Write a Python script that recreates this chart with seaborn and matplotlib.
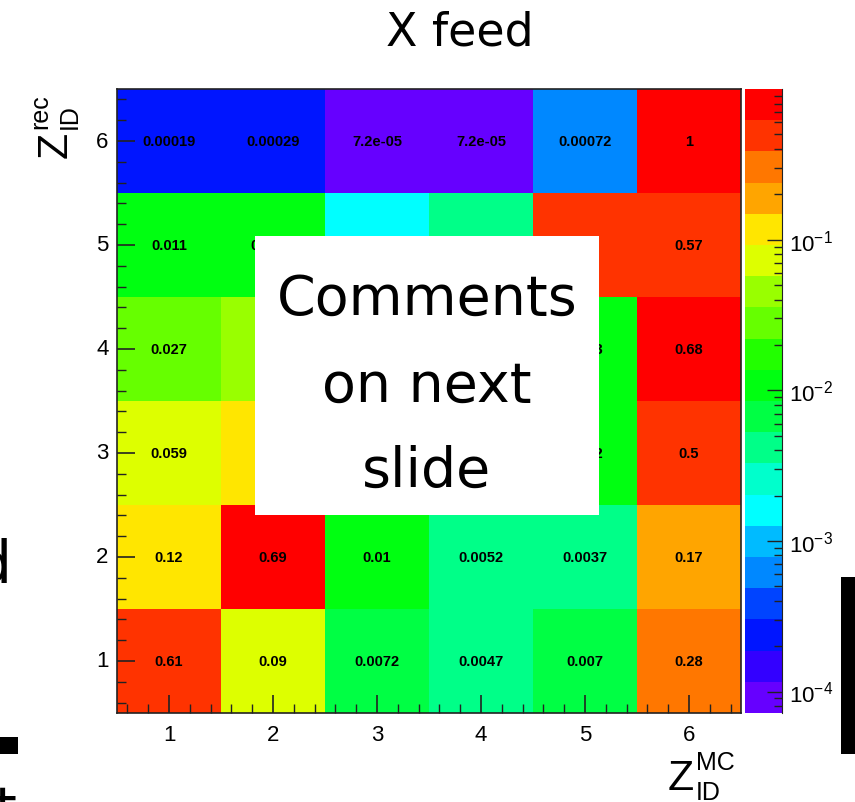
import numpy as np
import pandas as pd
import matplotlib
matplotlib.use("Agg")
import matplotlib.pyplot as plt
import seaborn as sns
from matplotlib.colors import ListedColormap, BoundaryNorm
from matplotlib.patches import Rectangle
from matplotlib.ticker import FixedLocator, NullFormatter

# ---- data: fraction of events with true charge Z_MC reconstructed as Z_rec ----
z_mc = [1, 2, 3, 4, 5, 6]
z_rec = [1, 2, 3, 4, 5, 6]
rec_1 = [0.61, 0.09, 0.0072, 0.0047, 0.007, 0.28]
rec_2 = [0.12, 0.69, 0.01, 0.0052, 0.0037, 0.17]
rec_3 = [0.059, 0.11, 0.55, 0.2, 0.012, 0.5]
rec_4 = [0.027, 0.046, 0.22, 0.6, 0.013, 0.68]
rec_5 = [0.011, 0.0096, 0.0016, 0.0042, 0.52, 0.57]
rec_6 = [0.00019, 0.00029, 7.2e-05, 7.2e-05, 0.00072, 1.0]

# cells lying completely under the note panel: (Z_rec, Z_MC)
covered_cells = [(3, 3), (3, 4), (4, 3), (4, 4)]

colorbar_ticks = [1e-4, 1e-3, 1e-2, 1e-1]
colorbar_labels = [r"$\mathregular{10^{-4}}$", r"$\mathregular{10^{-3}}$",
                   r"$\mathregular{10^{-2}}$", r"$\mathregular{10^{-1}}$"]

# 20-level rainbow palette, lowest level first
palette_colors = [
    "#6600ff", "#3300ff", "#0015ff", "#0044ff", "#0088ff",
    "#00bbff", "#00ffff", "#00ffcc", "#00ff88", "#00ff44",
    "#00ff11", "#22ff00", "#66ff00", "#99ff00", "#ddff00",
    "#ffe600", "#ffa500", "#ff7700", "#ff3300", "#ff0000",
]
z_min, z_max = 7.2e-05, 1.0

plt.rcParams["font.family"] = ["Liberation Sans", "DejaVu Sans"]
plt.rcParams["mathtext.fontset"] = "custom"
plt.rcParams["mathtext.rm"] = "Liberation Sans"

W, H = 855, 803
fig = plt.figure(figsize=(W / 100, H / 100), dpi=100)
fig.patch.set_facecolor("white")


def fx(px):
    return px / W


def fy(py):
    return 1 - py / H


ax = fig.add_axes([fx(117), fy(714), fx(741) - fx(117), fy(90) - fy(714)])
cax = fig.add_axes([fx(745), fy(714), fx(782) - fx(745), fy(90) - fy(714)])

rows = [rec_1, rec_2, rec_3, rec_4, rec_5, rec_6]
df = pd.DataFrame(rows[::-1], index=z_rec[::-1], columns=z_mc)
labels = np.array([[("" if (zr, zm) in covered_cells else f"{v:g}")
                    for zm, v in zip(df.columns, r)]
                   for zr, r in zip(df.index, df.values)])

cmap = ListedColormap(palette_colors)
bounds = np.logspace(np.log10(z_min), np.log10(z_max), len(palette_colors) + 1)
norm = BoundaryNorm(bounds, cmap.N)

sns.heatmap(df, ax=ax, cmap=cmap, norm=norm, cbar=False,
            annot=labels, fmt="",
            annot_kws=dict(color="black", fontweight="bold", fontsize=10.5))

# frame and inward ticks
for sp in ax.spines.values():
    sp.set_visible(True)
    sp.set_color("#222222")
    sp.set_linewidth(1.2)
centers = np.arange(len(z_mc)) + 0.5
ax.set_xticks(centers, labels=[str(v) for v in z_mc])
ax.set_yticks(centers, labels=[str(v) for v in z_rec[::-1]], rotation=0)
minor = [c + d for c in centers for d in (-0.4, -0.2, 0.2, 0.4)]
ax.xaxis.set_minor_locator(FixedLocator(minor))
ax.yaxis.set_minor_locator(FixedLocator(minor))
ax.tick_params(axis="both", which="major", direction="in", length=13, width=1.2,
               labelsize=16, colors="#222222", labelcolor="black")
ax.tick_params(axis="both", which="minor", direction="in", length=6.5, width=1.0,
               colors="#222222")
ax.tick_params(axis="x", which="both", bottom=True, top=False, pad=8)
ax.tick_params(axis="y", which="both", left=True, right=False, pad=6)
ax.set_xlabel("")
ax.set_ylabel("")

# log colour scale
cax.set_yscale("log")
level_mid = np.sqrt(bounds[:-1] * bounds[1:])
cax.pcolormesh([0, 1], bounds, level_mid[:, None], cmap=cmap, norm=norm)
cax.set_xlim(0, 1)
cax.set_ylim(z_min, z_max)
cax.set_xticks([])
cax.yaxis.tick_right()
cax.yaxis.set_major_locator(FixedLocator(colorbar_ticks))
cax.set_yticklabels(colorbar_labels)
minor_c = [k * 10.0 ** d for d in range(-5, 1) for k in range(2, 10)
           if z_min <= k * 10.0 ** d <= z_max]
cax.yaxis.set_minor_locator(FixedLocator(minor_c))
cax.yaxis.set_minor_formatter(NullFormatter())
cax.tick_params(axis="y", which="major", direction="in", length=11, width=1.0,
                labelsize=16, pad=5, colors="#222222", labelcolor="black")
cax.tick_params(axis="y", which="minor", direction="in", length=5.5, width=1.0,
                colors="#222222")
for name, sp in cax.spines.items():
    sp.set_visible(name == "right")
cax.spines["right"].set_color("#222222")

# axis titles
big, small = 31, 18
fig.text(fx(668), fy(790), "Z", fontsize=big, ha="left", va="baseline")
fig.text(fx(696), fy(770), "MC", fontsize=small, ha="left", va="baseline")
fig.text(fx(696), fy(800), "ID", fontsize=small, ha="left", va="baseline")

yb = 67
fig.text(fx(yb), fy(158), "Z", fontsize=big, ha="left", va="baseline",
         rotation=90, rotation_mode="anchor")
fig.text(fx(yb - 20), fy(129), "rec", fontsize=small, ha="left", va="baseline",
         rotation=90, rotation_mode="anchor")
fig.text(fx(yb + 10), fy(129), "ID", fontsize=small, ha="left", va="baseline",
         rotation=90, rotation_mode="anchor")

# title
fig.text(fx(460), fy(33), "X feed", fontsize=33, ha="center", va="center",
         family="DejaVu Sans")

# note panel over the middle of the matrix
fig.add_artist(Rectangle((fx(255), fy(516)), fx(599) - fx(255), fy(237) - fy(516),
                         transform=fig.transFigure, facecolor="white",
                         edgecolor="none", zorder=5))
for txt, base in (("Comments", 315), ("on next", 402), ("slide", 487)):
    fig.text(fx(427), fy(base), txt, fontsize=40, ha="center", va="baseline",
             family="DejaVu Sans", zorder=6)

# slide remnants around the figure
fig.text(fx(12), fy(583), "d", fontsize=42, ha="right", va="baseline",
         family="DejaVu Sans")
fig.text(fx(18), fy(826), "st", fontsize=40, ha="right", va="baseline",
         family="DejaVu Sans")
fig.add_artist(Rectangle((0, fy(755)), fx(18), fy(738) - fy(755),
                         transform=fig.transFigure, facecolor="black",
                         edgecolor="none", zorder=5))
fig.add_artist(Rectangle((fx(841), fy(755)), fx(855) - fx(841), fy(578) - fy(755),
                         transform=fig.transFigure, facecolor="black",
                         edgecolor="none", zorder=5))

fig.savefig("out.png", dpi=100, facecolor="white")
